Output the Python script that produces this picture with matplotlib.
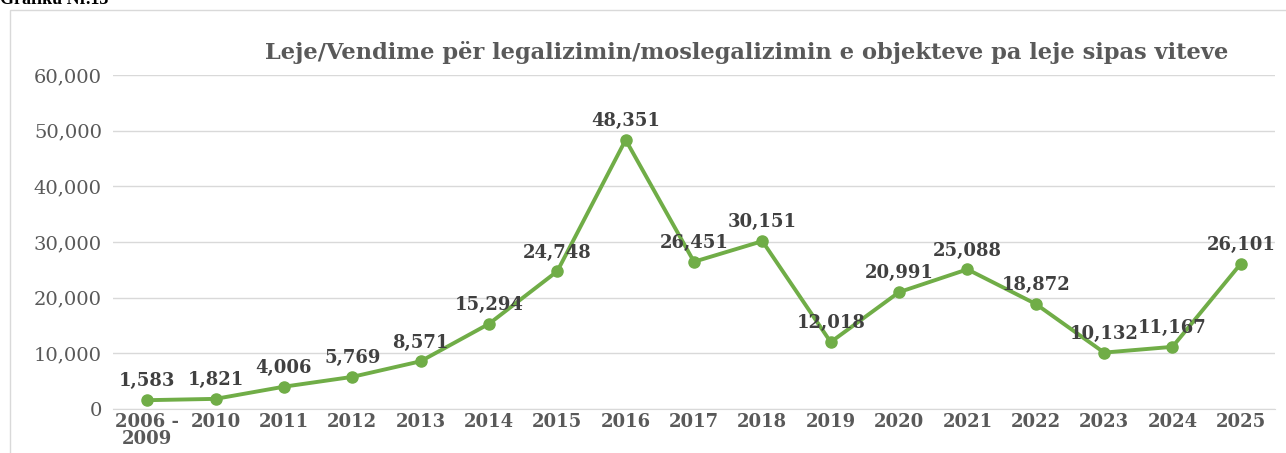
import matplotlib.pyplot as plt
from matplotlib.patches import Rectangle

years = ["2006 -\n2009", "2010", "2011", "2012", "2013", "2014", "2015", "2016",
         "2017", "2018", "2019", "2020", "2021", "2022", "2023", "2024", "2025"]
values = [1583, 1821, 4006, 5769, 8571, 15294, 24748, 48351,
          26451, 30151, 12018, 20991, 25088, 18872, 10132, 11167, 26101]

green = "#70AD47"
grey = "#595959"

fig = plt.figure(figsize=(12.86, 4.53), dpi=100)
fig.patches.append(Rectangle((10 / 1286, -0.1), 1.1, 1 - 10 / 453 + 0.1,
                             transform=fig.transFigure, fill=False,
                             edgecolor="#d9d9d9", linewidth=1))
fig.text(0.0, 1.0, "Grafiku Nr.13", family="Liberation Serif", weight="bold",
         fontsize=13, va="center", ha="left", color="black")

ax = fig.add_axes([113 / 1286, 1 - 409 / 453, (1275 - 113) / 1286, (409 - 75) / 453])
x = list(range(len(years)))
ax.plot(x, values, color=green, linewidth=2.8, marker="o", markersize=8, zorder=3)

for i, v in enumerate(values):
    ax.annotate(f"{v:,}", (i, v), xytext=(0, 13.5), textcoords="offset points",
                ha="center", va="center", family="DejaVu Serif", weight="bold",
                fontsize=13, color="#404040")

ax.set_xlim(-0.5, len(years) - 0.5)
ax.set_ylim(0, 60000)
ax.set_yticks(range(0, 60001, 10000))
ax.set_yticklabels([f"{t:,}" for t in range(0, 60001, 10000)],
                   family="DejaVu Serif", fontsize=14, color=grey)
ax.set_xticks(x)
ax.set_xticklabels(years, family="DejaVu Serif", weight="bold", fontsize=13,
                   color=grey, linespacing=0.95)
ax.tick_params(axis="both", length=0, pad=3)
ax.tick_params(axis="y", pad=8)
ax.grid(axis="y", color="#d9d9d9", linewidth=1)
ax.set_axisbelow(True)
for s in ["top", "right", "left"]:
    ax.spines[s].set_visible(False)
ax.spines["bottom"].set_color("#d9d9d9")

fig.text(265 / 1286, 1 - 53 / 453, "Leje/Vendime për legalizimin/moslegalizimin e objekteve pa leje sipas viteve",
         family="DejaVu Serif", weight="bold", fontsize=16.2, color=grey,
         ha="left", va="center")

fig.savefig("out.png", dpi=100)
